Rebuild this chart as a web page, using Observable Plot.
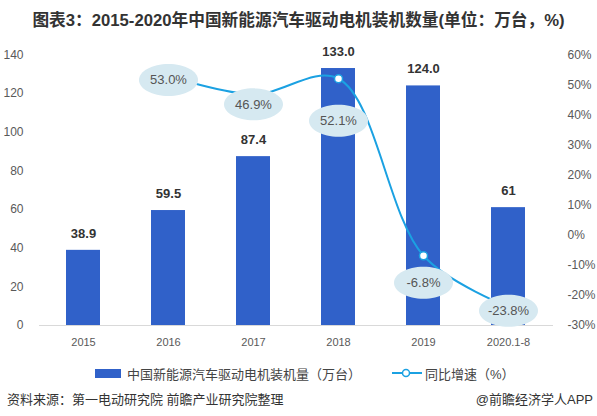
<!DOCTYPE html>
<html><head><meta charset="utf-8">
<script src="https://cdn.jsdelivr.net/npm/d3@7"></script>
<script src="https://cdn.jsdelivr.net/npm/@observablehq/plot@0.6"></script>
<style>
html,body{margin:0;padding:0;background:#fff;}
#wrap{position:relative;width:597px;height:416px;overflow:hidden;font-family:"Liberation Sans","Noto Sans CJK SC",sans-serif;}
#title{position:absolute;left:0;top:7px;width:597px;text-align:center;font-size:16.7px;font-weight:bold;color:#333;white-space:nowrap;}
#chart{position:absolute;left:0;top:40px;}
#legend{position:absolute;top:364px;left:0;width:597px;height:18px;font-size:13px;color:#444;}
#legend .item{position:absolute;top:0;display:flex;align-items:center;white-space:nowrap;height:18px;}
#footer{position:absolute;top:389px;left:7px;right:4px;font-size:13px;color:#333;white-space:nowrap;}
#footer .r{position:absolute;right:0;top:0;}
</style></head>
<body>
<div id="wrap">
  <div id="title">图表3：2015-2020年中国新能源汽车驱动电机装机数量(单位：万台，%)</div>
  <div id="chart"></div>
  <div id="legend">
    <div class="item" style="left:95px;"><span style="display:inline-block;width:26px;height:9px;background:#3061C9;margin-right:6px;"></span>中国新能源汽车驱动电机装机量（万台）</div>
    <div class="item" style="left:392px;"><svg width="30" height="10" style="margin-right:3px;"><line x1="0" y1="5" x2="30" y2="5" stroke="#1BA1E2" stroke-width="2"/><circle cx="14" cy="5" r="3.5" fill="#fff" stroke="#1BA1E2" stroke-width="1.5"/></svg>同比增速（%）</div>
  </div>
  <div id="footer">资料来源：第一电动研究院 前瞻产业研究院整理<span class="r">@前瞻经济学人APP</span></div>
</div>
<script>
const years = ["2015","2016","2017","2018","2019","2020.1-8"];
const installs = [38.9, 59.5, 87.4, 133.0, 124.0, 61];
const installLabels = ["38.9","59.5","87.4","133.0","124.0","61"];
const growthYears = ["2016","2017","2018","2019","2020.1-8"];
const growth = [53.0, 46.9, 52.1, -6.8, -23.8];
const growthLabels = ["53.0%","46.9%","52.1%","-6.8%","-23.8%"];
const leftTicks = [0,20,40,60,80,100,120,140];
const rightTicks = [-30,-20,-10,0,10,20,30,40,50,60];

const toLeft = p => (p + 30) * 140 / 90;
const fromLeft = v => Math.round(v * 90 / 140 - 30);

const bars = years.map((y,i) => ({year:y, v:installs[i], label:installLabels[i]}));
const gdata = growthYears.map((y,i) => ({year:y, g:growth[i], label:growthLabels[i]}));
const labelDy = [4, 10, 42, 27, 4];

const ellipse = { draw(ctx) {
  const rx = 29.5, ry = 16, k = 0.5523;
  ctx.moveTo(rx,0);
  ctx.bezierCurveTo(rx, ry*k, rx*k, ry, 0, ry);
  ctx.bezierCurveTo(-rx*k, ry, -rx, ry*k, -rx, 0);
  ctx.bezierCurveTo(-rx, -ry*k, -rx*k, -ry, 0, -ry);
  ctx.bezierCurveTo(rx*k, -ry, rx, -ry*k, rx, 0);
  ctx.closePath();
}};

const chart = Plot.plot({
  width: 597, height: 310,
  marginLeft: 39, marginRight: 44, marginTop: 14.5, marginBottom: 25,
  style: {fontFamily: '"Liberation Sans","Noto Sans CJK SC",sans-serif', color: "#595959", background: "transparent"},
  x: {domain: years, paddingInner: 0.6, paddingOuter: 0.3, label: null},
  y: {domain: [0, 140], label: null},
  marks: [
    Plot.axisY({ticks: leftTicks, tickSize: 0, tickPadding: 16, fontSize: 12, label: null}),
    Plot.axisY({anchor: "right", ticks: rightTicks.map(toLeft), tickFormat: d => fromLeft(d) + "%", tickSize: 0, tickPadding: 14, fontSize: 12, label: null}),
    Plot.axisX({tickSize: 0, tickPadding: 13, fontSize: 11, label: null}),
    Plot.barY(bars, {x: "year", y: "v", fill: "#3061C9"}),
    Plot.ruleY([0], {stroke: "#d9d9d9"}),
    Plot.text(bars, {x: "year", y: "v", text: "label", dy: -17, fontSize: 13, fontWeight: "bold", fill: "#333"}),
    Plot.line(gdata, {x: "year", y: d => toLeft(d.g), stroke: "#1BA1E2", strokeWidth: 2, curve: "catmull-rom"}),
    Plot.dot(gdata, {x: "year", y: d => toLeft(d.g), r: 4, fill: "#fff", stroke: "#1BA1E2", strokeWidth: 1.5}),
    ...gdata.map((d,i) => Plot.dot([d], {x: "year", y: e => toLeft(e.g), symbol: ellipse, r: 10, fill: "#D6E9F1", stroke: "none", dy: labelDy[i]})),
    ...gdata.map((d,i) => Plot.text([d], {x: "year", y: e => toLeft(e.g), text: "label", fontSize: 13, fill: "#555", dy: labelDy[i]}))
  ]
});
document.getElementById("chart").appendChild(chart);
</script>
</body></html>
